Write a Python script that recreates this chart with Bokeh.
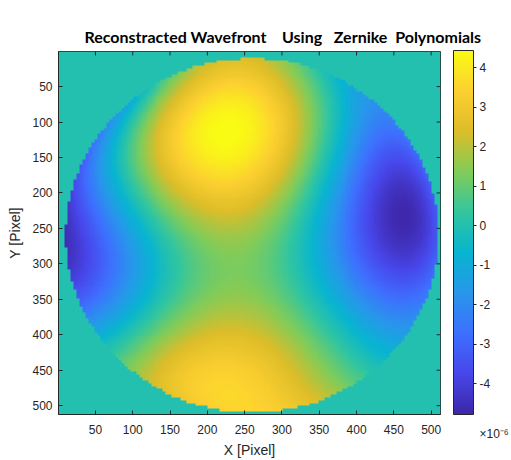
import numpy as np
from math import factorial
from bokeh.plotting import figure
from bokeh.models import LinearColorMapper, ColorBar, FixedTicker, Range1d, AllLabels
from bokeh.embed import file_html
from bokeh.resources import INLINE

# Zernike reconstruction of the wavefront (coefficients in units of 1e-6)
zernike_n = [0, 1, 1, 2, 2, 2, 3, 3, 3, 3, 4, 4, 4, 4, 4,
             5, 5, 5, 5, 5, 5, 6, 6, 6, 6, 6, 6, 6]
zernike_m = [0, -1, 1, -2, 0, 2, -3, -1, 1, 3, -4, -2, 0, 2, 4,
             -5, -3, -1, 1, 3, 5, -6, -4, -2, 0, 2, 4, 6]
zernike_coef = [0.35, 0.08, -1.36, -0.59, -1.16, -4.86, -0.11, -1.35, 1.17, 0.71,
                -0.23, 0.62, 0.10, 1.72, -0.01, 0.27, -0.04, 0.28, 0.23, -0.08, 0.03,
                -0.17, 0.28, -0.03, 0.08, -0.14, 0.18, -0.12]
pupil_center = [260.0, 260.0]   # pixel x, y
pupil_radius = 250.0            # pixels
image_size = 512                # pixels
sample_cells = 128              # reconstruction grid

x_ticks = [50, 100, 150, 200, 250, 300, 350, 400, 450, 500]
y_ticks = [50, 100, 150, 200, 250, 300, 350, 400, 450, 500]
cbar_ticks = [-4, -3, -2, -1, 0, 1, 2, 3, 4]
cbar_low, cbar_high = -4.78, 4.44
title_words = ["Reconstracted Wavefront", "Using", "Zernike", "Polynomials"]


def radial(n, m, r):
    m = abs(m)
    out = np.zeros_like(r)
    for k in range((n - m) // 2 + 1):
        c = (-1) ** k * factorial(n - k) / (
            factorial(k) * factorial((n + m) // 2 - k) * factorial((n - m) // 2 - k))
        out = out + c * r ** (n - 2 * k)
    return out


def zern(n, m, r, t):
    R = radial(n, m, r)
    if m > 0:
        return R * np.cos(m * t)
    if m < 0:
        return R * np.sin(-m * t)
    return R


step = image_size / sample_cells
centers = 0.5 + (np.arange(sample_cells) + 0.5) * step
XX, YY = np.meshgrid(centers, centers)
Xn = (XX - pupil_center[0]) / pupil_radius
Yn = (pupil_center[1] - YY) / pupil_radius
rho = np.hypot(Xn, Yn)
theta = np.arctan2(Yn, Xn)
W = np.zeros_like(rho)
for n, m, a in zip(zernike_n, zernike_m, zernike_coef):
    W = W + a * zern(n, m, rho, theta)
W[rho > 1] = 0.0

# parula-like colormap
anchors = np.array([
    [0.2422, 0.1504, 0.6603], [0.2803, 0.2782, 0.9221], [0.2440, 0.4358, 0.9988],
    [0.1540, 0.5902, 0.9218], [0.0297, 0.7082, 0.8163], [0.1938, 0.7758, 0.6251],
    [0.5044, 0.7993, 0.3480], [0.8634, 0.7406, 0.1596], [0.9892, 0.8136, 0.1885],
    [0.9769, 0.9839, 0.0805]])
ta = np.linspace(0, 1, len(anchors))
pal = []
for t in np.linspace(0, 1, 256):
    rgb = [np.interp(t, ta, anchors[:, k]) for k in range(3)]
    pal.append("#%02x%02x%02x" % tuple(int(round(v * 255)) for v in rgb))

mapper = LinearColorMapper(palette=pal, low=cbar_low, high=cbar_high)

FONT = "Liberation Sans"
DARK = "#262626"

p = figure(width=511, height=460,
           x_range=Range1d(0.5, image_size + 0.5), y_range=Range1d(image_size + 0.5, 0.5),
           output_backend="svg", toolbar_location=None,
           min_border_left=58, min_border_right=66, min_border_top=51, min_border_bottom=45,
           x_axis_label="X [Pixel]", y_axis_label="Y [Pixel]")
p.image(image=[W], x=0.5, y=0.5, dw=image_size, dh=image_size, color_mapper=mapper)
p.grid.visible = False
p.outline_line_color = DARK
p.outline_line_alpha = 1.0

NB = "\u00a0"
p.title.text = (title_words[0] + NB * 4 + title_words[1] + NB * 3 +
                title_words[2] + NB * 2 + title_words[3])
p.title.text_font = "Lato"
p.title.text_font_style = "bold"
p.title.text_font_size = "16px"
p.title.text_color = "black"
p.title.align = "left"
p.title.offset = 26
p.title.standoff = 11

for ax, tk in ((p.xaxis[0], x_ticks), (p.yaxis[0], y_ticks)):
    ax.ticker = FixedTicker(ticks=tk)
    ax.major_tick_in = 4
    ax.major_tick_out = 0
    ax.minor_tick_line_color = None
    ax.axis_line_color = DARK
    ax.major_tick_line_color = DARK
    ax.major_label_text_font = FONT
    ax.major_label_text_font_size = "12px"
    ax.major_label_text_color = DARK
    ax.axis_label_text_font = FONT
    ax.axis_label_text_font_size = "14px"
    ax.axis_label_text_font_style = "normal"
    ax.axis_label_text_color = DARK
p.xaxis[0].major_label_standoff = 10
p.xaxis[0].axis_label_standoff = 5
p.yaxis[0].major_label_standoff = 6
p.yaxis[0].axis_label_standoff = 6

# inward ticks on the top and right edges of the box
tick_len_x = 4 / (387 / image_size)
tick_len_y = 4 / (364 / image_size)
p.segment(x0=x_ticks, x1=x_ticks, y0=[0.5] * len(x_ticks),
          y1=[0.5 + tick_len_y] * len(x_ticks), line_color=DARK)
p.segment(x0=[image_size + 0.5] * len(y_ticks), x1=[image_size + 0.5 - tick_len_x] * len(y_ticks),
          y0=y_ticks, y1=y_ticks, line_color=DARK)

exp_label = "\u00d710\u207b\u2076"
overrides = {t: str(t) for t in cbar_ticks}
overrides[-4] = "\n\n\n-4\n\n\n" + exp_label
cb = ColorBar(color_mapper=mapper, ticker=FixedTicker(ticks=cbar_ticks),
              major_label_overrides=overrides, major_label_policy=AllLabels(),
              width=20, height=364, padding=0, margin=0, location=(13, 0),
              major_label_text_font=FONT, major_label_text_font_size="12px",
              major_label_text_line_height=1.2,
              major_label_text_color=DARK, major_tick_in=0, major_tick_out=3,
              major_tick_line_color=DARK, bar_line_color=DARK, label_standoff=3,
              border_line_color=None, background_fill_color=None)
p.add_layout(cb, "right")

open("out.html", "w").write(file_html(p, INLINE))
